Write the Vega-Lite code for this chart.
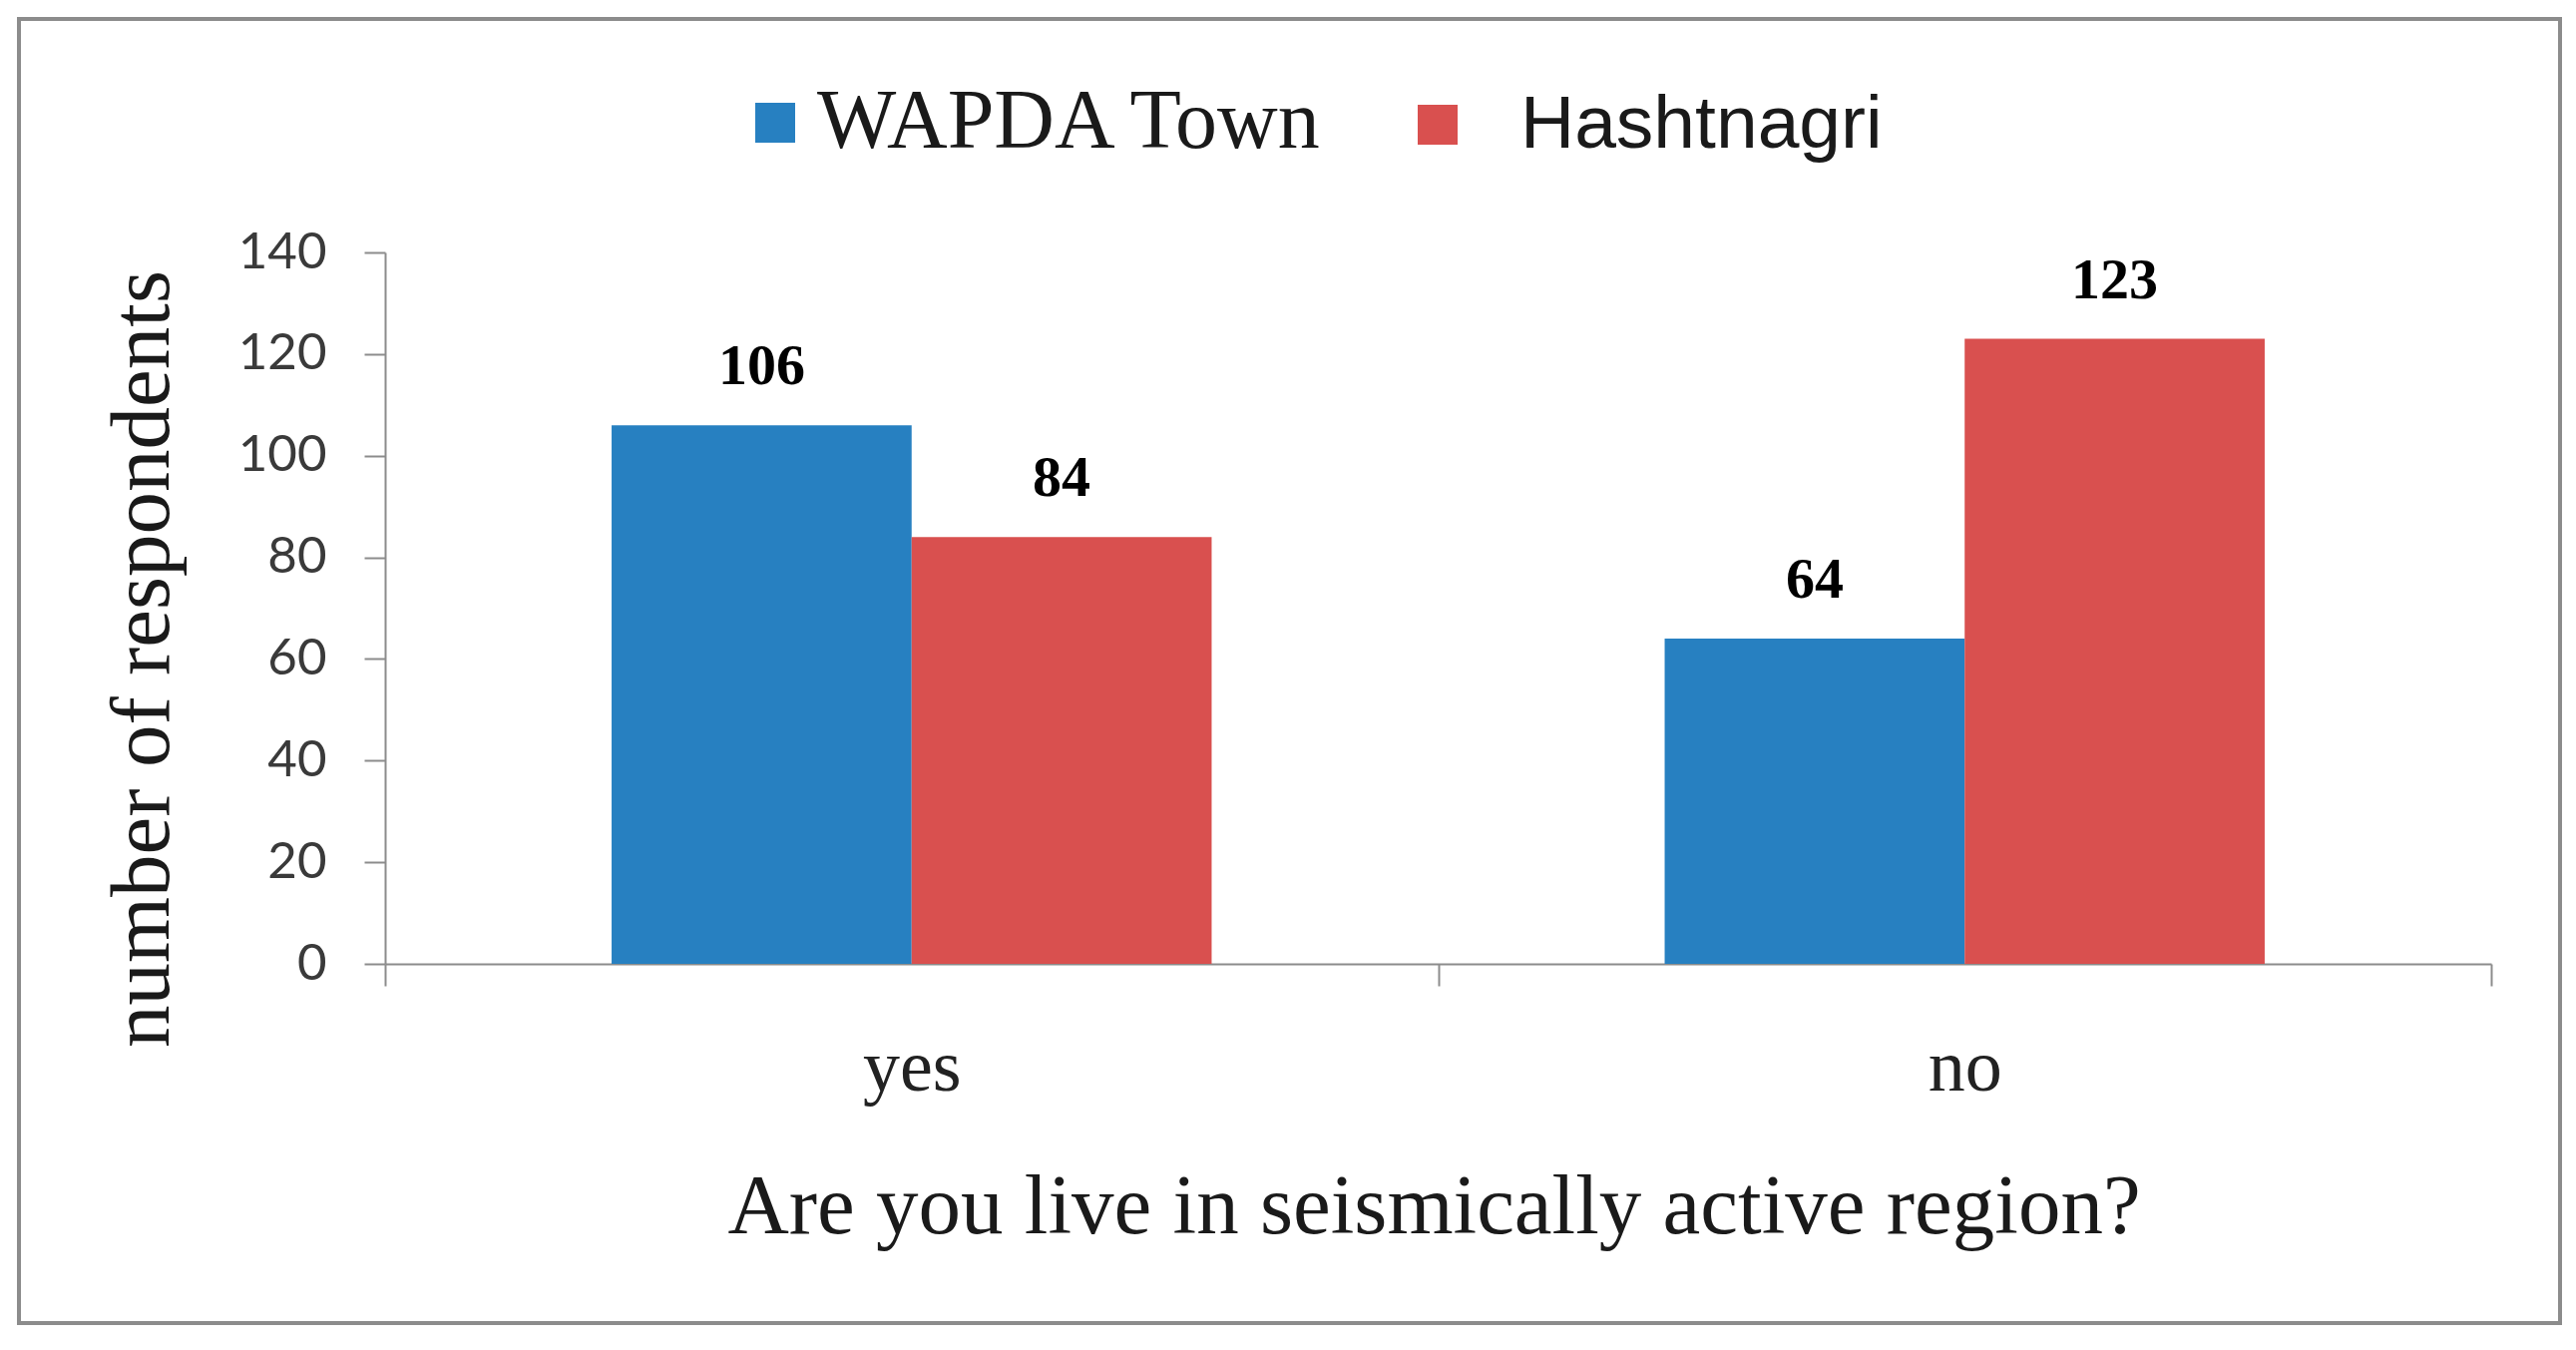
{
  "$schema": "https://vega.github.io/schema/vega-lite/v6.json",
  "width": 2547,
  "height": 1307,
  "autosize": "none",
  "padding": {"left": 19, "top": 19, "right": 16, "bottom": 27},
  "background": "white",
  "config": {"view": {"stroke": "#8c8c8c", "strokeWidth": 4}},
  "data": {
    "values": [
      {"answer": "yes", "town": "WAPDA Town", "respondents": 106},
      {"answer": "yes", "town": "Hashtnagri", "respondents": 84},
      {"answer": "no", "town": "WAPDA Town", "respondents": 64},
      {"answer": "no", "town": "Hashtnagri", "respondents": 123}
    ]
  },
  "encoding": {
    "x": {
      "field": "answer",
      "type": "nominal",
      "sort": ["yes", "no"],
      "scale": {"range": [367, 2478], "paddingInner": 0, "paddingOuter": 0},
      "axis": {
        "title": "Are you live in seismically active region?",
        "offset": -360,
        "labelAngle": 0,
        "tickBand": "extent",
        "tickSize": 22,
        "tickColor": "#8c8c8c",
        "tickWidth": 2,
        "domainColor": "#8c8c8c",
        "domainWidth": 2,
        "grid": false,
        "labelFont": "Liberation Serif",
        "labelFontSize": 74,
        "labelColor": "#222222",
        "labelBaseline": "alphabetic",
        "labelPadding": 104,
        "titleFont": "Liberation Serif",
        "titleFontSize": 85,
        "titleFontWeight": "normal",
        "titleColor": "#1a1a1a",
        "titleBaseline": "alphabetic",
        "titleAlign": "center",
        "titleX": 1418,
        "titleY": 269
      }
    },
    "xOffset": {
      "field": "town",
      "type": "nominal",
      "sort": ["WAPDA Town", "Hashtnagri"],
      "scale": {"paddingInner": 0, "paddingOuter": 0.755}
    },
    "y": {
      "field": "respondents",
      "type": "quantitative",
      "scale": {"domain": [0, 140], "range": [947, 234], "nice": false},
      "axis": {
        "title": "number of respondents",
        "offset": -367,
        "values": [0, 20, 40, 60, 80, 100, 120, 140],
        "tickSize": 21,
        "tickColor": "#8c8c8c",
        "tickWidth": 2,
        "domainColor": "#8c8c8c",
        "domainWidth": 2,
        "grid": false,
        "labelFont": "Lato",
        "labelFontSize": 51,
        "labelColor": "#3a3a3a",
        "labelPadding": 38,
        "titleFont": "Liberation Serif",
        "titleFontSize": 85,
        "titleFontWeight": "normal",
        "titleColor": "#1a1a1a",
        "titleAngle": 270,
        "titleBaseline": "bottom",
        "titleAlign": "center",
        "titleX": -200,
        "titleY": 641
      }
    }
  },
  "layer": [
    {
      "mark": {"type": "bar"},
      "encoding": {
        "color": {
          "field": "town",
          "type": "nominal",
          "scale": {"domain": ["WAPDA Town", "Hashtnagri"], "range": ["#2780C1", "#D9504F"]},
          "legend": {
            "title": null,
            "orient": "none",
            "direction": "horizontal",
            "legendX": 716,
            "legendY": 62,
            "padding": 0,
            "symbolType": "square",
            "symbolSize": 1600,
            "symbolStrokeWidth": 0,
            "symbolOpacity": 1,
            "labelFont": "Liberation Serif",
            "labelFontSize": 84,
            "labelColor": "#1a1a1a",
            "labelOffset": 0,
            "labelLimit": 1000,
            "columnPadding": 70,
            "encode": {
              "labels": {
                "update": {
                  "font": {"signal": "datum.label === 'Hashtnagri' ? 'Liberation Sans' : 'Liberation Serif'"},
                  "fontSize": {"signal": "datum.label === 'Hashtnagri' ? 75 : 84"},
                  "dx": {"signal": "datum.label === 'Hashtnagri' ? 41 : 0"}
                }
              }
            }
          }
        }
      }
    },
    {
      "mark": {
        "type": "text",
        "dy": -41,
        "baseline": "alphabetic",
        "font": "Liberation Serif",
        "fontWeight": "bold",
        "fontSize": 58,
        "color": "black"
      },
      "encoding": {"text": {"field": "respondents", "type": "quantitative"}}
    }
  ]
}
